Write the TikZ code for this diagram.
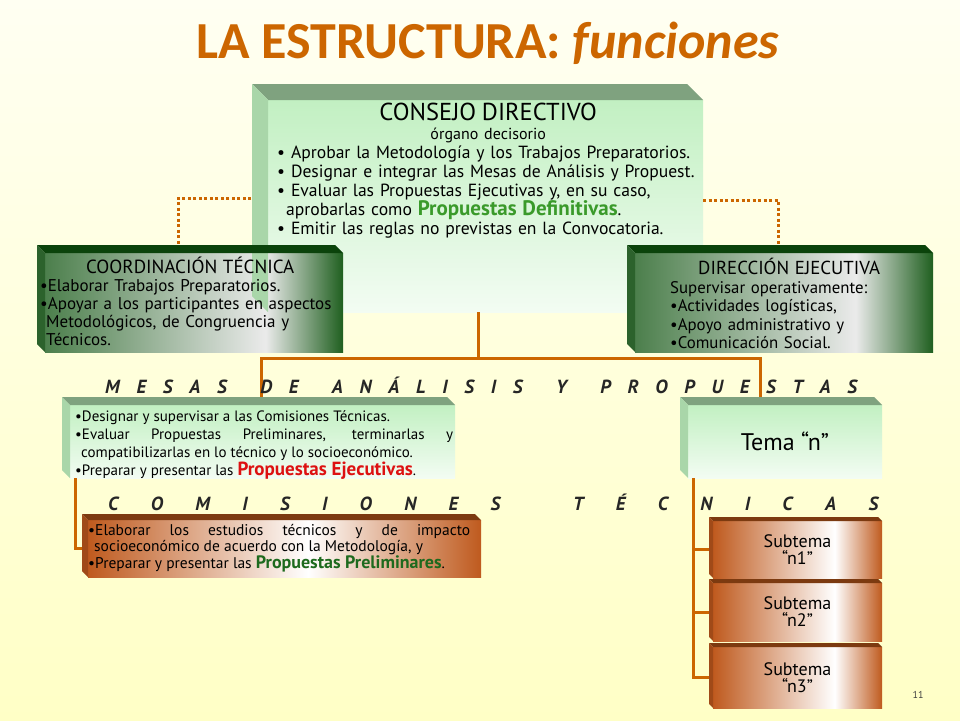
\documentclass[tikz,border=0pt]{standalone}
\usepackage{fontspec}
\setmainfont{PT Sans}
\newfontfamily\titlefont{Carlito}
\usetikzlibrary{positioning,calc}

\definecolor{bgtop}{HTML}{FFFFF2}
\definecolor{bgbottom}{HTML}{FFFFC6}
\definecolor{linkorange}{HTML}{CC6600}
\definecolor{mint}{HTML}{C2F0C2}
\definecolor{mintedge}{HTML}{7FA27F}
\definecolor{mintside}{HTML}{A9D6A9}
\definecolor{forest}{HTML}{1F5F1F}
\definecolor{forestedge}{HTML}{0B430B}
\definecolor{forestside}{HTML}{2C622C}
\definecolor{rust}{HTML}{BF5A1E}
\definecolor{rustedge}{HTML}{7C3A10}
\definecolor{rustside}{HTML}{A04A18}
\definecolor{headtext}{HTML}{262626}
\definecolor{defgreen}{HTML}{3A9A2A}
\definecolor{ejered}{HTML}{DD1111}
\definecolor{prelgreen}{HTML}{1E6A1E}

\pgfdeclarehorizontalshading{forestfade}{100bp}{color(0bp)=(forest!80!white); color(25bp)=(forest!80!white); color(62bp)=(white!92!black); color(75bp)=(forest); color(100bp)=(forest)}
\pgfdeclarehorizontalshading{rustfade}{100bp}{color(0bp)=(rust); color(25bp)=(rust); color(53bp)=(white); color(75bp)=(rust); color(100bp)=(rust)}
\pgfdeclarehorizontalshading{rustfadeb}{100bp}{color(0bp)=(rust); color(25bp)=(rust); color(61bp)=(white); color(75bp)=(rust); color(100bp)=(rust)}

\tikzset{
    face/.style={anchor=north west, inner sep=0pt, outer sep=0pt},
    mintface/.style={face, top color=mint, bottom color=mint!20!white},
    forestface/.style={face, shading=forestfade},
    rustface/.style={face, shading=rustfade},
    subface/.style={face, shading=rustfadeb, minimum width=169pt, align=center, font=\fontsize{18}{17}\selectfont},
    boxtext/.style={inner sep=0pt, anchor=north west, execute at begin node={\setlength{\parindent}{0pt}}},
    heading/.style={anchor=west, inner sep=0pt, text=headtext, font=\fontsize{19}{20}\selectfont\bfseries\itshape},
    link/.style={linkorange, line width=3pt},
    dotlink/.style={linkorange, line width=3pt, dash pattern=on 3pt off 2.5pt},
}

% caja en relieve: cara superior y lateral
\newcommand{\boxbevel}[4]{%
  \fill[#3] (#1.north west) -- ++(-#2,-#2) -- ($(#1.north east)+(-#2,-#2)$) -- (#1.north east) -- cycle;
  \fill[#4] (#1.north west) -- ++(-#2,-#2) -- ($(#1.south west)+(-#2,-#2)$) -- (#1.south west) -- cycle;
}

\begin{document}
\begin{tikzpicture}[x=1pt,y=-1pt]
  \useasboundingbox (0,0) rectangle (960,720);
  \fill[top color=bgtop, bottom color=bgbottom] (0,0) rectangle (960,720);

  \node[font=\titlefont\bfseries\fontsize{52}{58}\selectfont, text=linkorange] (titulo) at (488,43) {LA ESTRUCTURA: \textit{funciones}};

  % CAJAS
  \node[mintface, minimum width=435pt, minimum height=212pt] (consejo) at (268,100) {};
  \node[forestface, minimum width=298pt, minimum height=99pt] (coord) at (45,253) {};
  \node[forestface, minimum width=298pt, minimum height=99pt] (direccion) at (635,253) {};
  \node[mintface, minimum width=385pt, minimum height=73pt] (mesas) at (70,405) {};
  \node[mintface, minimum width=194pt, minimum height=73pt, font=\fontsize{24}{26}\selectfont] (tema) at (688,405) {Tema “n”};
  \node[rustface, minimum width=393pt, minimum height=57pt] (comision) at (88,520) {};
  \node[subface, minimum height=57pt] (sub1) at (713,521) {Subtema\\“n1”};
  \node[subface, minimum height=58pt] (sub2) at (713,583) {Subtema\\“n2”};
  \node[subface, minimum height=61pt] (sub3) at (713,647) {Subtema\\“n3”};

  % LINEAS
  \draw[dotlink] ($(consejo.north west)+(-6,98)$) -| ($(coord.north)+(-16,-8)$);
  \draw[dotlink] ($(consejo.north east)+(0,100)$) -| ($(direccion.north)+(-6,-8)$);
  \draw[link] ($(consejo.south)+(-7,0)$) -- ++(0,46) coordinate (hub);
  \draw[link] (hub) -| ($(mesas.north west)+(191,-8)$);
  \draw[link] (hub) -| ($(tema.north west)+(72,-8)$);
  \draw[link] ($(mesas.south west)+(5,0)$) |- (comision.west);
  \foreach \s in {sub1,sub2,sub3}
    \draw[link] ($(tema.south west)+(5,0)$) |- (\s.west);

  \boxbevel{consejo}{16}{mintedge}{mintside}
  \boxbevel{coord}{8}{forestedge}{forestside}
  \boxbevel{direccion}{8}{forestedge}{forestside}
  \boxbevel{mesas}{8}{mintedge}{mintside}
  \boxbevel{tema}{8}{mintedge}{mintside}
  \boxbevel{comision}{6}{rustedge}{rustside}
  \boxbevel{sub1}{4}{rustedge}{rustside}
  \boxbevel{sub2}{4}{rustedge}{rustside}
  \boxbevel{sub3}{4}{rustedge}{rustside}

  % TEXTOS
  \node[boxtext, text width=422pt, below right=3pt and 9pt of consejo.north west, font=\fontsize{17.6}{19}\selectfont] (consejotext)
    {{\centering{\fontsize{24.5}{24}\selectfont CONSEJO DIRECTIVO}\\[0pt]
     {\fontsize{16}{16}\selectfont órgano decisorio}\par}
     • Aprobar la Metodología y los Trabajos Preparatorios.\\
     • Designar e integrar las Mesas de Análisis y Propuest.\\
     • Evaluar las Propuestas Ejecutivas y, en su caso,\\
     \hspace*{9pt}aprobarlas como {\bfseries\color{defgreen}\fontsize{21}{19}\selectfont Propuestas Definitivas}.\\
     • Emitir las reglas no previstas en la Convocatoria.};

  \node[boxtext, text width=300pt, below right=4pt and -5pt of coord.north west, font=\fontsize{17}{18}\selectfont] (coordtext)
    {{\centering\fontsize{19}{18}\selectfont COORDINACIÓN TÉCNICA\par}
     •Elaborar Trabajos Preparatorios.\\
     •Apoyar a los participantes en aspectos\\
     \hspace*{6pt}Metodológicos, de Congruencia y\\
     \hspace*{6pt}Técnicos.};

  \node[boxtext, text width=238pt, below right=5pt and 35pt of direccion.north west, font=\fontsize{16.8}{18.5}\selectfont] (direcciontext)
    {{\centering\fontsize{18.8}{18}\selectfont DIRECCIÓN EJECUTIVA\par}
     Supervisar operativamente:\\
     •Actividades logísticas,\\
     •Apoyo administrativo y\\
     •Comunicación Social.};

  \node[heading] (mesashead) at (105,385)
    {\makebox[752pt][s]{M E S A S\ \ D E\ \ A N Á L I S I S\ \ Y\ \ P R O P U E S T A S}};

  \node[boxtext, text width=378pt, align=justify, below right=5pt and 5pt of mesas.north west, font=\fontsize{15}{18}\selectfont] (mesastext)
    {•Designar y supervisar a las Comisiones Técnicas.\\
     •Evaluar Propuestas Preliminares, terminarlas y\linebreak
     \hspace*{6pt}compatibilizarlas en lo técnico y lo socioeconómico.\\
     •Preparar y presentar las {\bfseries\color{ejered}\fontsize{19}{18}\selectfont Propuestas Ejecutivas}.};

  \node[heading] (comisionhead) at (108,502)
    {\makebox[770pt][s]{C O M I S I O N E S\ \ \hspace{8pt}T É C N I C A S}};

  \node[boxtext, text width=382pt, align=justify, below right=4pt and 0pt of comision.north west, font=\fontsize{15.5}{16.5}\selectfont] (comisiontext)
    {•Elaborar los estudios técnicos y de impacto\linebreak
     \hspace*{6pt}socioeconómico de acuerdo con la Metodología, y\\
     •Preparar y presentar las {\bfseries\color{prelgreen}\fontsize{18}{16.5}\selectfont Propuestas Preliminares}.};

  \node[font=\fontsize{10}{12}\selectfont, text=black!75] (pagina) at (918,695) {11};
\end{tikzpicture}
\end{document}
